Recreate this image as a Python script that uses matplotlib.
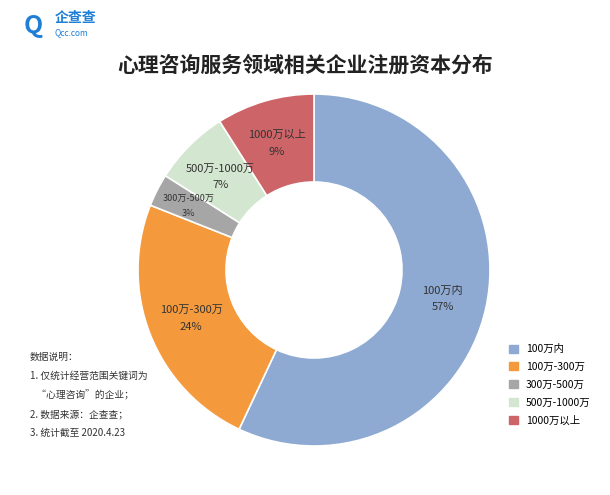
import matplotlib
matplotlib.use("Agg")
import matplotlib.pyplot as plt
import numpy as np

plt.rcParams['font.family'] = ['Noto Sans CJK SC', 'DejaVu Sans']

categories = ["100万内", "100万-300万", "300万-500万", "500万-1000万", "1000万以上"]
values = [57, 24, 3, 7, 9]
colors = ["#8eaad2", "#f59a3c", "#a6a6a6", "#d3e6cf", "#cd6468"]
fsz = [8, 8, 6.5, 8, 8]

fig = plt.figure(figsize=(6.1, 4.95), dpi=100)
fig.patch.set_facecolor("white")
R = 176
cx, cy = 314, 270
ax = fig.add_axes([(cx-R)/610, 1-(cy+R)/495, 2*R/610, 2*R/495])
wedges, _ = ax.pie(values, colors=colors, startangle=90, counterclock=False,
                   radius=1.0, wedgeprops=dict(width=0.5, edgecolor="white", linewidth=1.2))
ax.set_xlim(-1, 1)
ax.set_ylim(-1, 1)
for w, c, v, fs in zip(wedges, categories, values, fsz):
    ang = np.deg2rad((w.theta1 + w.theta2) / 2)
    r = 0.75
    if v == 3:
        r = 0.8
    ax.text(r*np.cos(ang), r*np.sin(ang), f"{c}\n{v}%", ha="center", va="center",
            fontsize=fs, color="#333333", linespacing=1.8)

fig.text(0.5, 1-65/495, "心理咨询服务领域相关企业注册资本分布", ha="center", va="center",
         fontsize=15, fontweight="bold", color="#222222")
fig.text(0.09, 1-18/495, "企查查", fontsize=10, color="#1f7fd6", va="center", fontweight="bold")
fig.text(0.09, 1-33/495, "Qcc.com", fontsize=6, color="#1f7fd6", va="center")
fig.text(0.055, 1-26/495, "Q", fontsize=18, color="#1f7fd6", va="center", ha="center", fontweight="bold")

notes = ["数据说明：", "1. 仅统计经营范围关键词为", "   “心理咨询”的企业；", "2. 数据来源：企查查；", "3. 统计截至 2020.4.23"]
for i, n in enumerate(notes):
    fig.text(30/610, 1-(357+19*i)/495, n, fontsize=7, color="#333333", va="center")

handles = [plt.Rectangle((0, 0), 1, 1, color=c) for c in colors]
fig.legend(handles, categories, loc="lower left", bbox_to_anchor=(500/610, 1-435/495),
           frameon=False, fontsize=7.5, handlelength=0.8, handleheight=0.8, labelspacing=0.75)
fig.savefig("out.png", dpi=100, facecolor="white")
